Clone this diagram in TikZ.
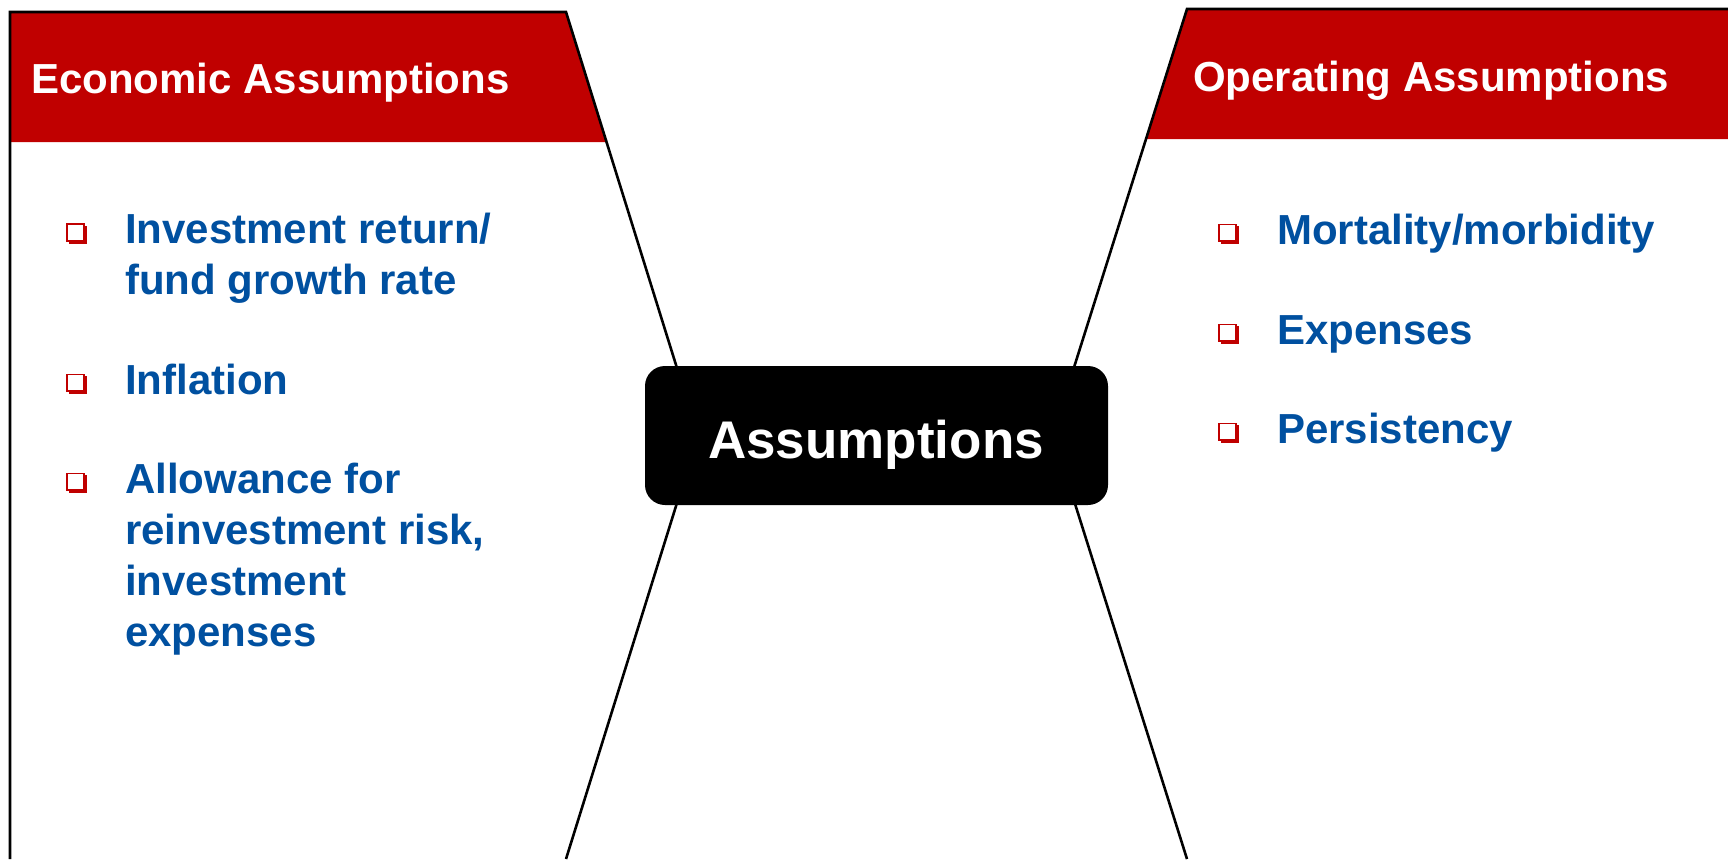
\documentclass[tikz,border=0pt]{standalone}
\usepackage{fontspec}
\setmainfont{Liberation Sans}
\definecolor{bandred}{RGB}{192,0,0}
\definecolor{itemblue}{RGB}{0,80,160}
\begin{document}
\begin{tikzpicture}[x=1pt,y=-1pt,
  outline/.style={draw=black,line width=2.6pt,line join=miter},
  band/.style={fill=bandred},
  headtext/.style={anchor=base west,inner sep=0pt,text=white,
    font=\fontsize{42}{51}\selectfont\bfseries},
  itemtext/.style={anchor=north west,inner sep=0pt,align=left,text=itemblue,
    font=\fontsize{42}{51}\selectfont\bfseries},
  corebox/.style={fill=black,rounded corners=20pt,minimum width=463pt,
    minimum height=139pt,inner sep=0pt},
  coretext/.style={anchor=base,inner sep=0pt,text=white,
    font=\fontsize{53}{60}\selectfont\bfseries},
  bulletsq/.pic={
    \fill[bandred] (2.5,-18) rectangle (20.5,0);
    \filldraw[fill=white,draw=bandred,line width=1.6pt] (0.8,-19.7) rectangle (17.7,-2.8);
  }]
\fill[white] (0,0) rectangle (1728,859);
\useasboundingbox (0,0) rectangle (1728,859);

% left panel: economic assumptions
\fill[band] (10,12) -- (566,12) -- (606.5,142) -- (10,142) -- cycle;
\draw[outline] (10,859) -- (10,12) -- (566,12) -- (698,435.5) -- (566,859);
\node[headtext] (econhead) at (31,93) {Economic Assumptions};

% right panel: operating assumptions
\fill[band] (1187,9) -- (1728,9) -- (1728,139) -- (1146,139) -- cycle;
\draw[outline] (1728,9) -- (1187,9) -- (1053,434) -- (1187,859);
\node[headtext] (ophead) at (1193,91) {Operating Assumptions};

% centre box
\node[corebox] (core) at (876.5,435.5) {};
\node[coretext] (coretxt) at (876,458) {Assumptions};

% economic items
\pic at (66,243.5) {bulletsq};
\node[itemtext] (e1) at (125,207.8) {\strut Investment return/\\\strut fund growth rate};
\pic at (66,394) {bulletsq};
\node[itemtext] (e2) at (125,358.3) {\strut Inflation};
\pic at (66,493) {bulletsq};
\node[itemtext] (e3) at (125,457.3) {\strut Allowance for\\\strut reinvestment risk,\\\strut investment\\\strut expenses};

% operating items
\pic at (1218,244) {bulletsq};
\node[itemtext] (o1) at (1277,208.3) {\strut Mortality/morbidity};
\pic at (1218,344) {bulletsq};
\node[itemtext] (o2) at (1277,308.3) {\strut Expenses};
\pic at (1218,443) {bulletsq};
\node[itemtext] (o3) at (1277,407.3) {\strut Persistency};
\end{tikzpicture}
\end{document}
